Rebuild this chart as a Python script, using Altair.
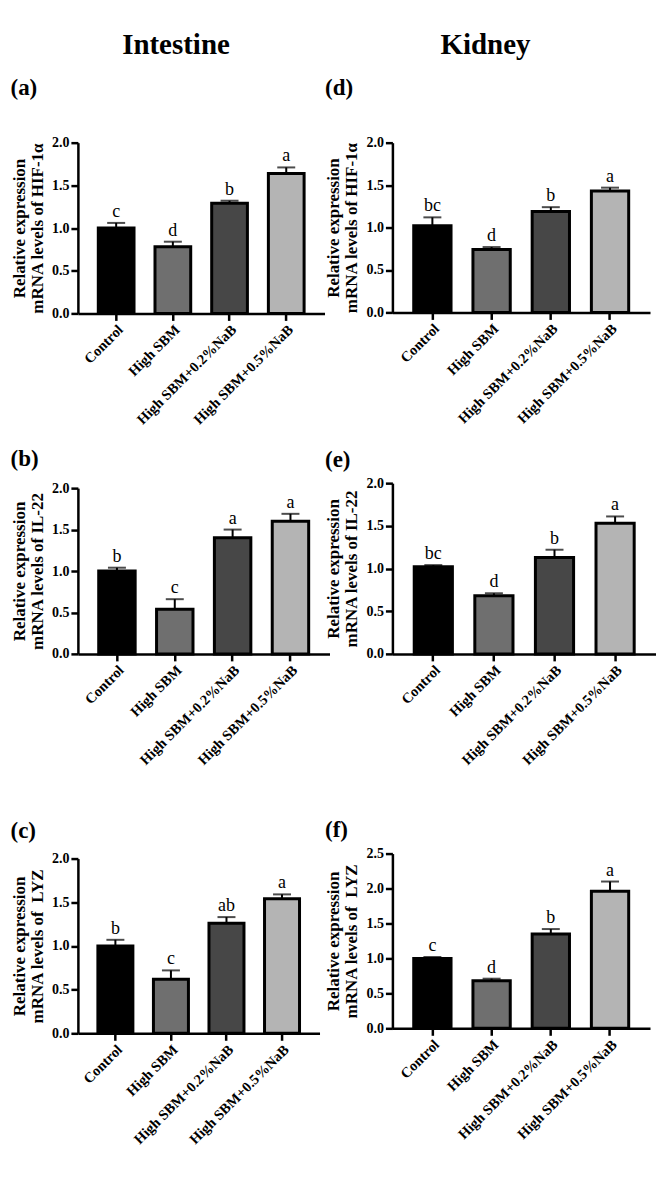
import altair as alt
import pandas as pd

SERIF = "Liberation Serif"

groups = ["Control", "High SBM", "High SBM+0.2%NaB", "High SBM+0.5%NaB"]
colors = ["#000000", "#6f6f6f", "#474747", "#b4b4b4"]

# Intestine
a_mean = [1.00, 0.78, 1.29, 1.64]
a_err = [0.06, 0.06, 0.03, 0.07]
a_sig = ["c", "d", "b", "a"]

b_mean = [1.00, 0.54, 1.40, 1.60]
b_err = [0.04, 0.12, 0.10, 0.09]
b_sig = ["b", "c", "a", "a"]

c_mean = [1.00, 0.62, 1.26, 1.54]
c_err = [0.07, 0.10, 0.07, 0.05]
c_sig = ["b", "c", "ab", "a"]

# Kidney
d_mean = [1.02, 0.74, 1.19, 1.43]
d_err = [0.10, 0.03, 0.05, 0.04]
d_sig = ["bc", "d", "b", "a"]

e_mean = [1.02, 0.68, 1.13, 1.53]
e_err = [0.02, 0.03, 0.09, 0.08]
e_sig = ["bc", "d", "b", "a"]

f_mean = [1.00, 0.68, 1.35, 1.96]
f_err = [0.02, 0.03, 0.07, 0.14]
f_sig = ["c", "d", "b", "a"]


def panel(label, gene, mean, err, sig, ymax, width, height, title_offset):
    df = pd.DataFrame({
        "group": groups,
        "mean": mean,
        "top": [m + e for m, e in zip(mean, err)],
        "sig": sig,
    })
    xscale = alt.Scale(domain=groups, paddingInner=0.37, paddingOuter=0.36)
    x = alt.X("group:N", sort=groups, scale=xscale,
              axis=alt.Axis(title=None, labelAngle=-45, labelAlign="right",
                            labelBaseline="top", labelPadding=2, labelOverlap=False))
    ticks = [i * 0.5 for i in range(int(ymax / 0.5) + 1)]
    yscale = alt.Scale(domain=[0, ymax], nice=False, zero=True)
    yaxis = alt.Axis(values=ticks, format=".1f", labelOverlap=False,
                     title=["Relative expression", f"mRNA levels of {gene}"],
                     titlePadding=5)
    base = alt.Chart(df)
    rule = base.mark_rule(color="black", strokeWidth=2).encode(
        x=x, y=alt.Y("mean:Q", scale=yscale, axis=yaxis), y2="top:Q")
    bars = base.mark_bar(stroke="black", strokeWidth=3).encode(
        x=x, y=alt.Y("mean:Q", scale=yscale, axis=yaxis),
        color=alt.Color("group:N", scale=alt.Scale(domain=groups, range=colors), legend=None))
    cap = base.mark_tick(color="black", thickness=2, size=18).encode(
        x=x, y=alt.Y("top:Q", scale=yscale, axis=yaxis))
    text = base.mark_text(baseline="bottom", dy=-2, font=SERIF, fontSize=18,
                          color="black").encode(
        x=x, y=alt.Y("top:Q", scale=yscale, axis=yaxis), text="sig:N")
    return alt.layer(rule, bars, cap, text).properties(
        width=width, height=height,
        title=alt.TitleParams(label, anchor="start", frame="bounds", offset=title_offset,
                              font=SERIF, fontSize=23, fontWeight="bold", color="black"))


pa = panel("(a)", "HIF-1\u03b1", a_mean, a_err, a_sig, 2.0, 247, 171, 36)
pb = panel("(b)", "IL-22", b_mean, b_err, b_sig, 2.0, 252, 166, 10)
pc = panel("(c)", "\u00a0LYZ", c_mean, c_err, c_sig, 2.0, 242, 175, 9)

pd_ = panel("(d)", "HIF-1\u03b1", d_mean, d_err, d_sig, 2.0, 258, 170, 36)
pe = panel("(e)", "IL-22", e_mean, e_err, e_sig, 2.0, 264, 171, 4)
pf = panel("(f)", "\u00a0LYZ", f_mean, f_err, f_sig, 2.5, 258, 175, 5)

col_title = dict(anchor="middle", font=SERIF, fontSize=29, fontWeight="bold",
                 color="black", offset=17)

left = alt.vconcat(alt.vconcat(pa, pb, spacing=21), pc, spacing=52,
                   title=alt.TitleParams("Intestine", dx=6, **col_title))
right = alt.vconcat(alt.vconcat(pd_, pe, spacing=23), pf, spacing=51,
                    title=alt.TitleParams("Kidney", dx=-5, **col_title))

chart = alt.hconcat(left, right, spacing=-5).properties(
    padding={"left": 2, "top": 22, "right": 0, "bottom": 0}
).configure_view(stroke=None).configure_axis(
    domainColor="black", domainWidth=2.5, tickColor="black", tickWidth=2.5, tickSize=7,
    labelColor="black", labelFont=SERIF, labelFontWeight="bold", grid=False,
    titleColor="black", titleFont=SERIF, titleFontWeight="bold", titleFontSize=17,
    titleLineHeight=18
).configure_axisX(labelFontSize=14.5).configure_axisY(labelFontSize=14, labelPadding=2)

chart.save("out.html", embed_options={"renderer": "svg", "actions": False})
